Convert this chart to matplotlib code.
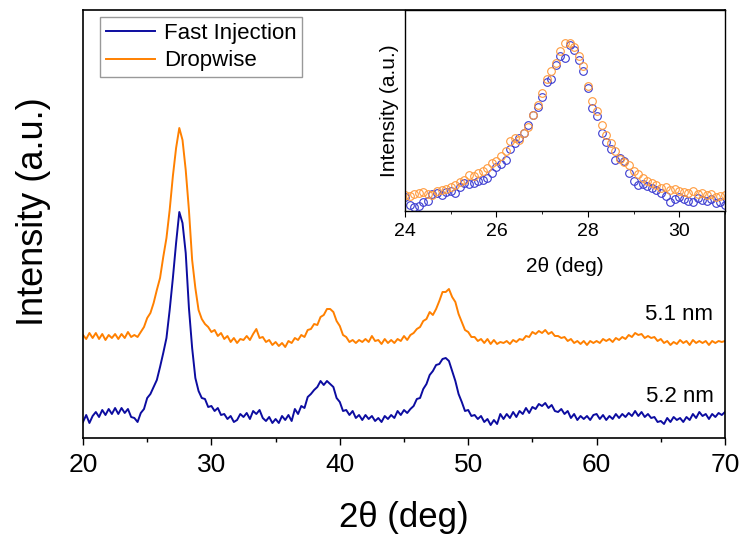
import numpy as np
import matplotlib.pyplot as plt
from matplotlib.ticker import MultipleLocator

plt.rcParams['font.family'] = ['Liberation Sans', 'DejaVu Sans']

# main XRD patterns, 2theta from 20 to 70 deg in 0.25 deg steps (offset, a.u.)
two_theta = np.arange(20, 70.001, 0.25)
fast_injection = [
    16, 23, 15, 22, 26, 21, 28, 23, 29, 24, 30, 24, 30, 25, 29, 21,
    20, 16, 25, 29, 40, 44, 51, 58, 71, 85, 100, 128, 160, 195, 226, 215,
    185, 130, 90, 60, 47, 40, 39, 31, 32, 27, 30, 23, 24, 19, 22, 16,
    18, 24, 21, 25, 19, 27, 24, 28, 20, 17, 21, 15, 19, 15, 22, 18,
    23, 17, 29, 24, 32, 30, 41, 44, 48, 51, 57, 53, 57, 54, 51, 40,
    36, 27, 28, 23, 27, 20, 23, 18, 23, 19, 22, 17, 20, 16, 22, 19,
    23, 20, 27, 23, 28, 25, 29, 32, 39, 40, 49, 54, 63, 67, 73, 74,
    79, 80, 77, 67, 57, 44, 36, 27, 28, 22, 23, 19, 22, 16, 19, 13,
    18, 14, 24, 19, 24, 20, 26, 21, 27, 24, 30, 25, 31, 29, 34, 32,
    35, 30, 33, 27, 26, 29, 24, 27, 20, 24, 18, 22, 19, 22, 18, 23,
    24, 19, 23, 18, 22, 19, 24, 20, 24, 21, 25, 22, 27, 22, 26, 21,
    24, 20, 21, 16, 17, 14, 20, 16, 21, 18, 20, 16, 21, 18, 24, 20,
    26, 22, 24, 19, 24, 21, 25, 23, 26,
]
dropwise = [
    103, 99, 105, 100, 105, 99, 104, 98, 103, 100, 104, 99, 104, 100, 106, 101,
    103, 101, 106, 111, 120, 125, 135, 148, 160, 181, 200, 228, 262, 290, 310, 298,
    268, 228, 178, 150, 128, 119, 114, 111, 106, 108, 102, 105, 99, 102, 96, 100,
    95, 99, 98, 102, 98, 104, 109, 100, 101, 96, 98, 93, 96, 92, 95, 91,
    97, 95, 100, 98, 103, 101, 108, 109, 114, 113, 121, 123, 129, 129, 126, 117,
    112, 103, 101, 96, 98, 95, 98, 96, 99, 96, 102, 97, 98, 94, 99, 95,
    98, 95, 99, 97, 102, 98, 103, 105, 109, 111, 117, 119, 126, 123, 129, 137,
    146, 146, 149, 141, 136, 124, 116, 108, 106, 101, 101, 97, 99, 95, 99, 94,
    98, 94, 96, 95, 97, 94, 98, 96, 99, 98, 102, 101, 106, 104, 107, 105,
    108, 104, 106, 102, 102, 100, 101, 97, 99, 95, 97, 94, 97, 93, 97, 95,
    97, 95, 99, 97, 99, 96, 100, 98, 101, 99, 103, 101, 105, 103, 104, 100,
    102, 100, 101, 97, 99, 95, 97, 93, 96, 94, 98, 95, 97, 93, 98, 95,
    97, 95, 97, 93, 97, 95, 97, 96, 97,
]
sizes = ['5.2 nm', '5.1 nm']

# inset: zoom on the main reflection, 24 to 31 deg in 0.1 deg steps
inset_theta = np.arange(24, 31.001, 0.1)
inset_fast = [
    14, 6, 4, 5, 9, 10, 17, 18, 16, 19, 20, 18, 24, 28, 27, 28, 30, 31, 33, 38,
    44, 47, 51, 62, 68, 73, 78, 86, 96, 104, 114, 129, 132, 146, 155, 153, 166, 161, 151, 140,
    123, 103, 95, 78, 69, 62, 51, 53, 50, 38, 30, 26, 27, 25, 23, 21, 18, 15, 9, 12,
    14, 12, 10, 9, 13, 11, 10, 12, 8, 9, 6,
]
inset_drop = [
    16, 15, 17, 18, 19, 17, 16, 20, 21, 22, 24, 26, 29, 31, 36, 35, 38, 40, 43, 48,
    50, 55, 60, 70, 73, 71, 78, 84, 96, 106, 118, 132, 140, 148, 160, 168, 168, 164, 155, 145,
    125, 110, 100, 86, 76, 68, 60, 52, 49, 46, 40, 37, 33, 30, 28, 26, 23, 24, 21, 22,
    20, 19, 18, 20, 17, 18, 16, 17, 14, 15, 16,
]

blue = '#0c0ca0'
orange = '#ff8000'

fig = plt.figure(figsize=(7.43, 5.48), dpi=100)
ax = fig.add_axes([83/743, 1 - 438/548, 642/743, 428/548])

ax.plot(two_theta, fast_injection, color=blue, lw=1.4, label='Fast Injection')
ax.plot(two_theta, dropwise, color=orange, lw=1.4, label='Dropwise')

ax.text(69.1, 41, sizes[0], fontsize=16, ha='right', va='center')
ax.text(69.1, 123, sizes[1], fontsize=16, ha='right', va='center')

ax.set_xlim(20, 70)
ax.set_ylim(0, 428)
ax.set_yticks([])
ax.xaxis.set_major_locator(MultipleLocator(10))
ax.xaxis.set_minor_locator(MultipleLocator(5))
ax.tick_params(axis='x', which='major', direction='out', length=5, width=1, labelsize=19, pad=6)
ax.tick_params(axis='x', which='minor', direction='out', length=3, width=1)
ax.set_xlabel('2θ (deg)', fontsize=25, labelpad=17)
ax.set_ylabel('Intensity (a.u.)', fontsize=26, labelpad=19)
ax.yaxis.set_label_coords(-0.05, 0.53)
for sp in ax.spines.values():
    sp.set_linewidth(1.2)

leg = ax.legend(loc='upper left', fontsize=16, handlelength=2.2, frameon=True,
                fancybox=False, borderpad=0.25, labelspacing=0.3, handletextpad=0.4,
                bbox_to_anchor=(0.027, 0.983), borderaxespad=0)
leg.get_frame().set_edgecolor('#808080')
leg.get_frame().set_linewidth(1.0)

# inset
ins = fig.add_axes([405/743, 1 - 211/548, 320/743, 201/548])
ins.plot(inset_theta, inset_fast, 'o', mfc='none', mec='#3a3ad0', ms=5.5, mew=0.8)
ins.plot(inset_theta, inset_drop, 'o', mfc='none', mec='#ff9a3c', ms=5.5, mew=0.8)
ins.set_xlim(24, 31)
ins.set_ylim(0, 201)
ins.set_yticks([])
ins.xaxis.set_major_locator(MultipleLocator(2))
ins.xaxis.set_minor_locator(MultipleLocator(1))
ins.tick_params(axis='x', which='major', direction='out', length=4, labelsize=14, pad=5)
ins.tick_params(axis='x', which='minor', direction='out', length=2.5)
ins.set_xlabel('2θ (deg)', fontsize=15, labelpad=12)
ins.set_ylabel('Intensity (a.u.)', fontsize=15, labelpad=4)
for sp in ins.spines.values():
    sp.set_linewidth(1.0)

fig.savefig('out.png', dpi=100)
